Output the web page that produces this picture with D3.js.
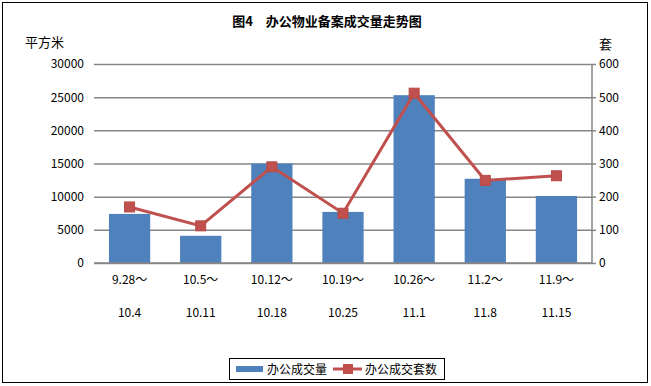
<!DOCTYPE html>
<html><head><meta charset="utf-8">
<script src="https://cdn.jsdelivr.net/npm/d3@7/dist/d3.min.js"></script>
<style>body{margin:0;background:#fff}svg{display:block}</style>
</head><body>
<svg id="c" width="651" height="386"></svg>
<script>
const catLine1 = ["9.28～","10.5～","10.12～","10.19～","10.26～","11.2～","11.9～"];
const catLine2 = ["10.4","10.11","10.18","10.25","11.1","11.8","11.15"];
const area = [7400, 4100, 15000, 7700, 25300, 12700, 10100];
const units = [169, 112, 290, 150, 512, 249, 263];
const leftTicks = [0,5000,10000,15000,20000,25000,30000];
const rightTicks = [0,100,200,300,400,500,600];

const svg = d3.select("#c");
const font = "'Noto Sans CJK SC', 'DejaVu Sans', sans-serif";
const L = 94, R = 592, T = 64, B = 263;
const idx = d3.range(catLine1.length);
const x = d3.scaleBand().domain(idx).range([L, R]).paddingInner(0.42).paddingOuter(0.21);
const yL = d3.scaleLinear().domain([0, 30000]).range([B, T]);
const yR = d3.scaleLinear().domain([0, 600]).range([B, T]);
const xc = i => x(i) + x.bandwidth() / 2;

svg.append("rect").attr("x", 2.5).attr("y", 2.5).attr("width", 645).attr("height", 380)
  .attr("fill", "#fff").attr("stroke", "#000").attr("stroke-width", 1);

svg.append("text").attr("x", 327).attr("y", 26).attr("text-anchor", "middle")
  .attr("font-family", font).attr("font-size", 13).attr("font-weight", "bold").text("图4　办公物业备案成交量走势图");
svg.append("text").attr("x", 25).attr("y", 47).attr("font-family", font).attr("font-size", 13).text("平方米");
svg.append("text").attr("x", 599).attr("y", 49).attr("font-family", font).attr("font-size", 13).text("套");

// gridlines + left axis labels
const gl = svg.append("g").call(d3.axisLeft(yL).tickValues(leftTicks).tickSize(0).tickPadding(10).tickFormat(d3.format("d")))
  .attr("transform", `translate(${L},0)`);
gl.select(".domain").remove();
gl.selectAll("text").attr("font-family", font).attr("font-size", 12).attr("fill", "#000");
gl.selectAll(".tick").append("line").attr("x1", 0).attr("x2", R - L).attr("stroke", "#868686").attr("stroke-width", 1.5);

// right axis
const gr = svg.append("g").attr("transform", `translate(${R},0)`)
  .call(d3.axisRight(yR).tickValues(rightTicks).tickSize(4).tickPadding(3));
gr.select(".domain").attr("stroke", "#868686").attr("stroke-width", 1.5).attr("d", `M0,${T}V${B}`);
gr.selectAll(".tick line").attr("stroke", "#868686").attr("stroke-width", 1.5);
gr.selectAll("text").attr("font-family", font).attr("font-size", 12).attr("fill", "#000");

// bars
svg.append("g").selectAll("rect").data(area).join("rect")
  .attr("x", (d, i) => x(i)).attr("width", x.bandwidth())
  .attr("y", d => yL(d)).attr("height", d => B - yL(d)).attr("fill", "#4F81BD");

// baseline
svg.append("line").attr("x1", L).attr("x2", R).attr("y1", B).attr("y2", B).attr("stroke", "#868686").attr("stroke-width", 1.5);

// line
svg.append("path").datum(units).attr("fill", "none").attr("stroke", "#C0504D").attr("stroke-width", 3)
  .attr("d", d3.line().x((d, i) => xc(i)).y(d => yR(d)));
svg.append("g").selectAll("rect").data(units).join("rect")
  .attr("x", (d, i) => xc(i) - 5).attr("y", d => yR(d) - 5).attr("width", 10).attr("height", 10)
  .attr("fill", "#C0504D").attr("stroke", "#B84A47");

// x labels
const xl = svg.append("g").attr("font-family", font).attr("font-size", 12).attr("text-anchor", "middle");
xl.selectAll("text.a").data(catLine1).join("text").attr("class", "a")
  .attr("x", (d, i) => xc(i)).attr("y", 284).text(d => d);
xl.selectAll("text.b").data(catLine2).join("text").attr("class", "b")
  .attr("x", (d, i) => xc(i)).attr("y", 317).text(d => d);

// legend
const lg = svg.append("g");
lg.append("rect").attr("x", 229.5).attr("y", 358.5).attr("width", 215).attr("height", 21).attr("fill", "#fff").attr("stroke", "#000");
lg.append("rect").attr("x", 236).attr("y", 366).attr("width", 27).attr("height", 6).attr("fill", "#4F81BD");
lg.append("text").attr("x", 267).attr("y", 374).attr("font-family", font).attr("font-size", 12).text("办公成交量");
lg.append("line").attr("x1", 333).attr("x2", 362).attr("y1", 369).attr("y2", 369).attr("stroke", "#C0504D").attr("stroke-width", 3);
lg.append("rect").attr("x", 343).attr("y", 364).attr("width", 10).attr("height", 10).attr("fill", "#C0504D");
lg.append("text").attr("x", 365).attr("y", 374).attr("font-family", font).attr("font-size", 12).text("办公成交套数");
</script>
</body></html>
